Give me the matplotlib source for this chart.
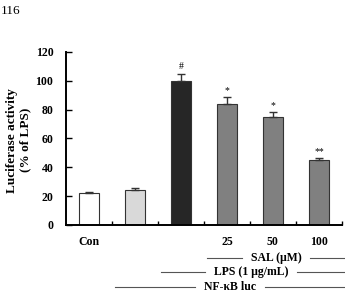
import matplotlib
matplotlib.use("Agg")
import matplotlib.pyplot as plt
from matplotlib.lines import Line2D

groups = ["Con", "", "", "25", "50", "100"]
values = [22, 24.5, 100, 84, 75, 45]
errors = [1.0, 1.0, 5.0, 4.5, 3.5, 1.5]
colors = ["#ffffff", "#d9d9d9", "#262626", "#808080", "#808080", "#808080"]
marks = ["", "", "#", "*", "*", "**"]

plt.rcParams["font.family"] = ["Liberation Serif", "DejaVu Serif"]
plt.rcParams["font.weight"] = "bold"

fig = plt.figure(figsize=(3.45, 3.04), dpi=100)
ax = fig.add_axes([0.191, 0.26, 0.8, 0.569])

x = list(range(len(values)))
lower = [0] * len(errors)
ax.bar(x, values, width=0.43, color=colors, edgecolor="#333333", linewidth=0.8,
       yerr=[lower, errors], error_kw=dict(ecolor="#333333", elinewidth=1.0, capsize=3, capthick=1.0))
for xi, v, e, m in zip(x, values, errors, marks):
    if m:
        ax.text(xi, v + e + 1.5, m, ha="center", va="bottom", fontsize=7, fontweight="normal")

ax.set_xlim(-0.5, 5.5)
ax.set_ylim(0, 120)
ax.set_yticks([0, 20, 40, 60, 80, 100, 120])
ax.set_xticks([0.5, 1.5, 2.5, 3.5, 4.5, 5.5])
ax.set_xticklabels([])
ax.tick_params(axis="x", direction="in", length=3, width=1)
ax.tick_params(axis="y", direction="in", length=4, width=1, labelsize=8.5, pad=9)
for lab in ax.get_yticklabels():
    lab.set_fontweight("bold")
ax.spines["top"].set_visible(False)
ax.spines["right"].set_visible(False)
ax.spines["left"].set_linewidth(1.4)
ax.spines["bottom"].set_linewidth(1.4)

fig.text(0.054, 0.539, "Luciferase activity\n(% of LPS)", rotation=90, ha="center", va="center",
         fontsize=9.5, fontweight="bold", multialignment="center", linespacing=1.05)

# group labels under bars
for xi, g in zip(x, groups):
    if g:
        ax.text(xi, -12, g, ha="center", va="center", fontsize=8.5, fontweight="bold",
                transform=ax.transData, clip_on=False)

W, H = 345.0, 304.0
rows = [
    ("SAL (\u03bcM)", 258, 207, 242, 310, 345, 276),
    ("LPS (1 \u03bcg/mL)", 272, 161, 205, 297, 345, 251),
    ("NF-\u03baB luc", 287, 115, 195, 265, 345, 230),
]
for label, yp, a0, a1, b0, b1, xc in rows:
    fy = 1 - yp / H
    fig.add_artist(Line2D([a0 / W, a1 / W], [fy, fy], color="#555555", lw=0.8))
    fig.add_artist(Line2D([b0 / W, b1 / W], [fy, fy], color="#555555", lw=0.8))
    fig.text(xc / W, fy, label, ha="center", va="center", fontsize=8.5, fontweight="bold")

fig.text(0.003, 0.965, "116", ha="left", va="center", fontsize=9.5, fontweight="normal")

fig.savefig("out.png", dpi=100)
